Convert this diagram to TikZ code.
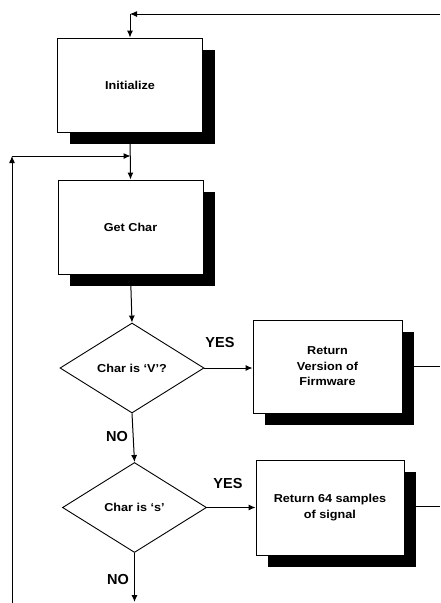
\documentclass[tikz,border=0pt]{standalone}
\usepackage{fontspec}
\setmainfont{Liberation Sans}
\newfontfamily\boxfont{Liberation Sans}[FakeStretch=1.1]
\usetikzlibrary{shapes.geometric,shadows,arrows.meta}
\begin{document}
\begin{tikzpicture}[x=1pt,y=-1pt,
  procbox/.style={draw, line width=0.9pt, fill=white, minimum width=145pt, minimum height=94pt,
    align=center, inner sep=2pt, font=\boxfont\bfseries\fontsize{11.5}{15.5}\selectfont,
    drop shadow={shadow xshift=12pt, shadow yshift=-12pt, fill=black, opacity=1}},
  decbox/.style={draw, diamond, line width=0.9pt, fill=white, minimum width=144pt, minimum height=90pt,
    inner sep=0pt, align=center, font=\boxfont\bfseries\fontsize{11.5}{15.5}\selectfont},
  flow/.style={line width=1pt, -{Latex[length=7pt,width=6pt]}},
  plain/.style={line width=1pt},
  lbl/.style={font=\bfseries\fontsize{14.5}{16}\selectfont, inner sep=0pt}]
\useasboundingbox (0,0) rectangle (440,603);

\node[procbox] (init) at (130,85) {Initialize};
\node[procbox] (get) at (130.5,227) {Get Char};
\node[decbox] (d1) at (132,368) {Char is ‘V’?};
\node[decbox] (d2) at (134.5,507.5) {Char is ‘s’};
\node[procbox, minimum width=149pt, minimum height=93pt] (r1) at (327.5,366.5) {Return\\Version of\\Firmware};
\node[procbox, minimum width=148pt, minimum height=95pt] (r2) at (330,507.5) {Return 64 samples\\of signal};

\node[lbl] (yes1) at (220,343) {YES};
\node[lbl] (yes2) at (228,484) {YES};
\node[lbl] (no1) at (117,437) {NO};
\node[lbl] (no2) at (118,580) {NO};

\coordinate (topR) at (440,14);
\coordinate (topC) at (130,14);
\coordinate (loopB) at (12,603);
\coordinate (loopT) at (12,156);
\coordinate (join) at (130.5,156);
\coordinate (bottom) at (134.5,602);
\coordinate (e1) at (440,366.5);
\coordinate (e2) at (440,506);

\draw[flow] (topR) -- (topC);
\draw[flow] (topC) -- (init.north);
\draw[flow] (init.south) -- (get.north);
\draw[flow] (loopB) -- (loopT);
\draw[flow] (loopT) -- (join);
\draw[flow] (get.south) -- (d1.north);
\draw[flow] (d1.east) -- (d1.east -| r1.west);
\draw[flow] (d1.south) -- (d2.north);
\draw[flow] (d2.east) -- (d2.east -| r2.west);
\draw[flow] (d2.south) -- (bottom);
\draw[plain] (r1.east) -- (e1);
\draw[plain] (r2.east |- e2) -- (e2);
\end{tikzpicture}
\end{document}
